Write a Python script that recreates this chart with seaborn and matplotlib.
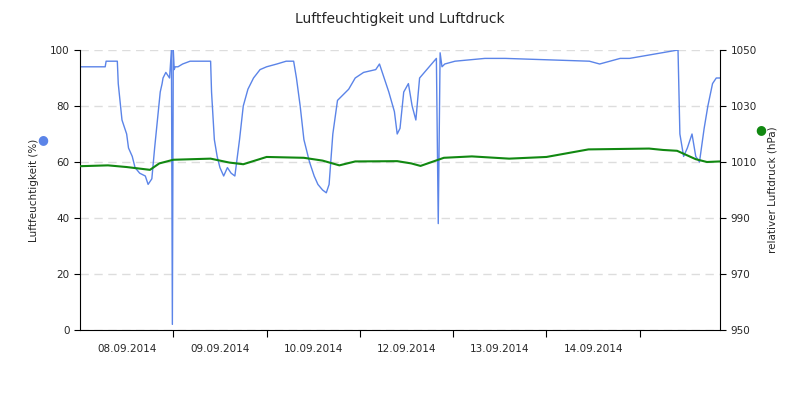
import matplotlib
matplotlib.use("Agg")
import matplotlib.pyplot as plt
import seaborn as sns
import pandas as pd

sns.set_theme(style="white")
plt.rcParams['font.family'] = ['DejaVu Sans']

# time in days from start of plotted range
hum_t = [0,0.27,0.28,0.40,0.41,0.45,0.50,0.52,0.56,0.59,0.64,0.70,0.73,0.77,0.80,0.83,0.86,0.88,0.89,0.92,0.96,0.98,0.99,1.00,1.01,1.02,1.05,1.10,1.18,1.40,1.41,1.44,1.47,1.50,1.54,1.58,1.62,1.66,1.71,1.75,1.80,1.86,1.93,2.00,2.11,2.21,2.29,2.32,2.36,2.40,2.46,2.51,2.55,2.60,2.64,2.67,2.71,2.76,2.82,2.88,2.95,3.04,3.17,3.21,3.26,3.31,3.37,3.40,3.43,3.47,3.52,3.56,3.60,3.64,3.82,3.84,3.86,3.88,3.91,4.02,4.34,4.56,5.46,5.57,5.68,5.79,5.89,6.41,6.42,6.43,6.47,6.51,6.56,6.60,6.64,6.69,6.73,6.78,6.82,6.86]
hum_v = [94,94,96,96,88,75,70,65,62,58,56,55,52,54,65,75,85,88,90,92,90,100,2,100,93,94,94,95,96,96,85,68,62,58,55,58,56,55,68,80,86,90,93,94,95,96,96,90,80,68,60,55,52,50,49,52,70,82,84,86,90,92,93,95,90,85,78,70,72,85,88,80,75,90,97,38,99,94,95,96,97,97,96,95,96,97,97,100,85,70,62,65,70,62,60,72,80,88,90,90]
pres_t = [0,0.3,0.5,0.75,0.85,1.0,1.4,1.6,1.75,2.0,2.4,2.6,2.78,2.95,3.4,3.55,3.65,3.9,4.2,4.6,5.0,5.45,6.1,6.25,6.4,6.5,6.6,6.72,6.86]
pres_v = [1008.5,1008.8,1008.2,1007.2,1009.5,1010.8,1011.2,1009.8,1009.2,1011.8,1011.5,1010.5,1008.8,1010.2,1010.3,1009.5,1008.6,1011.5,1012.0,1011.2,1011.8,1014.5,1014.8,1014.3,1014.0,1012.5,1011.0,1010.0,1010.2]
tick_labels = ["08.09.2014","09.09.2014","10.09.2014","12.09.2014","13.09.2014","14.09.2014"]

fig = plt.figure(figsize=(8,4), dpi=100)
ax = fig.add_axes([0.1, 0.175, 0.8, 0.7])
sns.lineplot(x=hum_t, y=hum_v, ax=ax, color="#5b84e8", linewidth=1)
ax2 = ax.twinx()
sns.lineplot(x=pres_t, y=pres_v, ax=ax2, color="#118811", linewidth=1.5)

ax.set_xlim(0, 6.86)
ax.set_ylim(0, 100)
ax2.set_ylim(950, 1050)
ax.set_yticks([0,20,40,60,80,100])
ax2.set_yticks([950,970,990,1010,1030,1050])
ax.yaxis.grid(True, color="#dddddd", linestyle=(0,(6,4)), linewidth=1)
ax.set_xticks([1,2,3,4,5,6])
ax.set_xticklabels([])
ax.set_xticks([0.5,1.5,2.5,3.5,4.5,5.5], minor=True)
ax.set_xticklabels(tick_labels, minor=True)
ax.tick_params(axis="x", which="major", length=5, width=0.8, color="black", direction="out", bottom=True)
ax.tick_params(axis="x", which="minor", length=0, labelsize=7.5, pad=10)
ax.tick_params(axis="y", labelsize=7.5, length=4, width=0.8, left=True, color="black")
ax2.tick_params(axis="y", labelsize=7.5, length=4, width=0.8, right=True, color="black")
for a in (ax, ax2):
    for s in a.spines.values():
        s.set_visible(False)
for s in (ax.spines["left"], ax.spines["bottom"], ax2.spines["right"]):
    s.set_visible(True); s.set_color("black"); s.set_linewidth(0.8)
ax.set_ylabel("Luftfeuchtigkeit (%)", fontsize=7.5, labelpad=8)
ax2.set_ylabel("relativer Luftdruck (hPa)", fontsize=7.5, labelpad=8)
fig.text(0.054, 0.65, "●", color="#5b84e8", fontsize=9, ha="center", va="center")
fig.text(0.951, 0.675, "●", color="#118811", fontsize=9, ha="center", va="center")
fig.suptitle("Luftfeuchtigkeit und Luftdruck", fontsize=10, y=0.97)
fig.savefig("out.png", dpi=100)
